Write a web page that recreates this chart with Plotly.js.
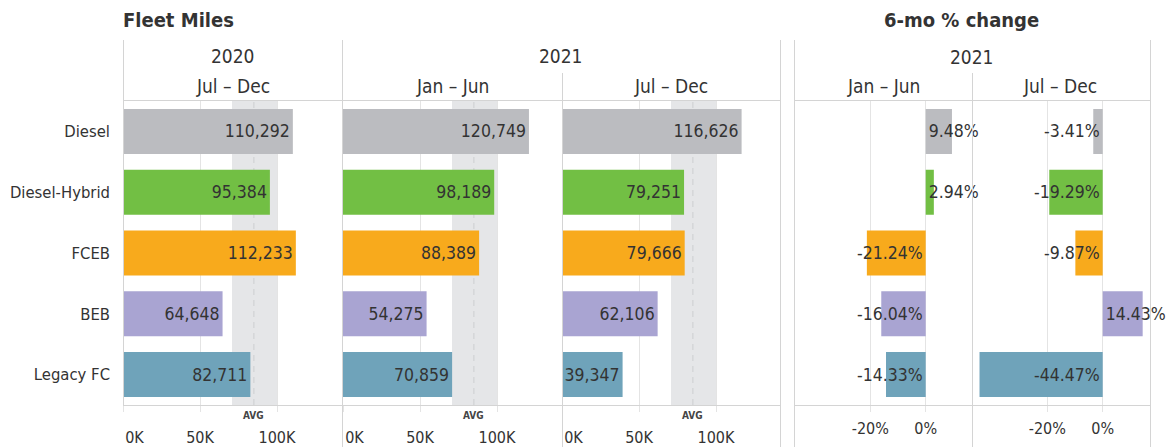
<!DOCTYPE html>
<html>
<head>
<meta charset="utf-8">
<script src="https://cdn.plot.ly/plotly-3.0.1.min.js"></script>
<style>
html,body{margin:0;padding:0;background:#fff;}
#chart{width:1175px;height:447px;}
</style>
</head>
<body>
<div id="chart"></div>
<script>
// ---- data ----
const categories = ['Diesel', 'Diesel-Hybrid', 'FCEB', 'BEB', 'Legacy FC'];
const barColors = ['#BBBCC0', '#72BF44', '#F8AA1C', '#A9A4D2', '#6FA3BA'];
const miles2020JulDec = [110292, 95384, 112233, 64648, 82711];
const miles2021JanJun = [120749, 98189, 88389, 54275, 70859];
const miles2021JulDec = [116626, 79251, 79666, 62106, 39347];
const pct2021JanJun = [9.48, 2.94, -21.24, -16.04, -14.33];
const pct2021JulDec = [-3.41, -19.29, -9.87, 14.43, -44.47];
const milesTickVals = [0, 50000, 100000];
const milesTickText = ['0K', '50K', '100K'];
const pctTickVals = [-20, 0];
const pctTickText = ['-20%', '0%'];
const avgMiles = 85000;
const avgBandLow = 70800;
const avgBandHigh = 100000;

// ---- layout helpers ----
const W = 1175, H = 447;
const FONT = '"Liberation Sans Narrow", "DejaVu Sans Condensed", "Arial Narrow", Roboto, sans-serif';
const TXT = '#333333';
const LINE = '#D4D4D4';
const GRID = '#E4E4E4';
const fx = p => p / W;
const fy = p => 1 - p / H;
const plotTop = 101, plotBot = 405;
const yDom = [fy(plotBot), fy(plotTop)];
const NB = '\u00a0';
// first tick label is pushed inward from the panel edge, as in the original
const milesTickLabels = milesTickText.map((t, i) => i === 0 ? NB.repeat(5) + t : t);

function milesTrace(vals, ax) {
  return {
    type: 'bar', orientation: 'h', y: categories, x: vals,
    xaxis: ax, yaxis: 'y',
    marker: {color: barColors, line: {width: 0}},
    text: vals.map(v => v.toLocaleString('en-US')),
    textposition: 'inside', insidetextanchor: 'end', textangle: 0,
    constraintext: 'none',
    insidetextfont: {family: FONT, size: 17.5, color: TXT},
    hoverinfo: 'none', cliponaxis: false, showlegend: false
  };
}
function pctTrace(vals, ax) {
  return {
    type: 'bar', orientation: 'h', y: categories, x: vals,
    xaxis: ax, yaxis: 'y',
    marker: {color: barColors, line: {width: 0}},
    text: vals.map(v => v.toFixed(2) + '%'),
    textposition: 'inside', insidetextanchor: 'start', textangle: 0,
    constraintext: 'none',
    insidetextfont: {family: FONT, size: 17.5, color: TXT},
    hoverinfo: 'none', cliponaxis: false, showlegend: false
  };
}

const data = [
  milesTrace(miles2020JulDec, 'x'),
  milesTrace(miles2021JanJun, 'x2'),
  milesTrace(miles2021JulDec, 'x3'),
  pctTrace(pct2021JanJun, 'x4'),
  pctTrace(pct2021JulDec, 'x5')
];

const kScale = 1.54 / 1000; // px per mile
const pScale = 2.77;        // px per percent
function milesAxis(x0px, x1px, standoff) {
  return {
    domain: [fx(x0px), fx(x1px)],
    range: [0, (x1px - x0px) / kScale],
    tickvals: milesTickVals, ticktext: milesTickLabels,
    showgrid: true, gridcolor: GRID, gridwidth: 1,
    zeroline: false, showline: true, linecolor: LINE, linewidth: 1,
    ticks: 'outside', ticklen: 6, tickcolor: GRID, tickwidth: 1,
    tickfont: {family: FONT, size: 16, color: TXT},
    ticklabelstandoff: standoff,
    anchor: 'y', fixedrange: true
  };
}
function pctAxis(x0px, x1px, zeroPx) {
  return {
    domain: [fx(x0px), fx(x1px)],
    range: [(x0px - zeroPx) / pScale, (x1px - zeroPx) / pScale],
    tickvals: pctTickVals, ticktext: pctTickText,
    showgrid: true, gridcolor: GRID, gridwidth: 1,
    zeroline: false, showline: true, linecolor: LINE, linewidth: 1,
    ticks: 'outside', ticklen: 6, tickcolor: GRID, tickwidth: 1,
    tickfont: {family: FONT, size: 16, color: TXT},
    ticklabelstandoff: 3,
    anchor: 'y', fixedrange: true
  };
}

const shapes = [];
// avg bands + dashed avg lines for the three miles panels
['x', 'x2', 'x3'].forEach(ax => {
  shapes.push({type: 'rect', xref: ax, yref: 'paper', x0: avgBandLow, x1: avgBandHigh,
    y0: yDom[0], y1: yDom[1], fillcolor: '#E5E6E8', line: {width: 0}, layer: 'below'});
  shapes.push({type: 'line', xref: ax, yref: 'paper', x0: avgMiles, x1: avgMiles,
    y0: yDom[0], y1: yDom[1], line: {color: '#CDCED0', width: 1, dash: '6px,5px'}, layer: 'below'});
});
function vline(xp, y0p, y1p) {
  shapes.push({type: 'line', xref: 'paper', yref: 'paper', x0: fx(xp), x1: fx(xp),
    y0: fy(y1p), y1: fy(y0p), line: {color: LINE, width: 1}});
}
function hline(x0p, x1p, yp) {
  shapes.push({type: 'line', xref: 'paper', yref: 'paper', x0: fx(x0p), x1: fx(x1p),
    y0: fy(yp), y1: fy(yp), line: {color: LINE, width: 1}});
}
vline(123.5, 40, plotBot);
vline(342.5, 40, H);
vline(562.5, 73, H);
vline(780.5, 40, H);
vline(794.5, 40, H);
vline(972.5, 73, H);
vline(1150.5, 40, H);
hline(123, 781, 100.5);
hline(794, 1151, 100.5);

function ann(text, xp, yp, size, bold, xanchor) {
  return {text: bold ? '<b>' + text + '</b>' : text, xref: 'paper', yref: 'paper',
    x: fx(xp), y: fy(yp), xanchor: xanchor || 'center', yanchor: 'middle',
    showarrow: false, font: {family: FONT, size: size, color: TXT}};
}
const annotations = [
  ann('Fleet Miles', 121, 20, 20, true, 'left'),
  ann('6-mo % change', 961, 20, 20, true),
  ann('2020', 232.5, 56, 19),
  ann('Jul – Dec', 232.5, 86, 19),
  ann('2021', 561, 56, 19),
  ann('Jan – Jun', 452, 86, 19),
  ann('Jul – Dec', 671, 86, 19),
  ann('2021', 972, 57, 19),
  ann('Jan – Jun', 883, 86, 19),
  ann('Jul – Dec', 1060, 86, 19)
];
['x', 'x2', 'x3'].forEach(ax => {
  annotations.push({text: '<b>AVG</b>', xref: ax, yref: 'paper', x: avgMiles, y: fy(415),
    xanchor: 'center', yanchor: 'middle', showarrow: false,
    font: {family: FONT, size: 10, color: '#444'}});
});

const layout = {
  width: W, height: H,
  margin: {l: 0, r: 0, t: 0, b: 0, pad: 0},
  paper_bgcolor: '#fff', plot_bgcolor: 'rgba(0,0,0,0)',
  bargap: 0.26,
  showlegend: false,
  font: {family: FONT, color: TXT},
  xaxis: milesAxis(123, 342, 12),
  xaxis2: milesAxis(343, 562, 12),
  xaxis3: milesAxis(562, 780, 12),
  xaxis4: pctAxis(794, 972.7, 925.7),
  xaxis5: pctAxis(972.7, 1150.7, 1102.7),
  yaxis: {
    domain: yDom, type: 'category', categoryorder: 'array', categoryarray: categories,
    autorange: 'reversed', anchor: 'x', showgrid: false, zeroline: false, showline: false,
    ticks: '', tickfont: {family: FONT, size: 16.5, color: TXT}, ticklabelstandoff: 12,
    fixedrange: true
  },
  shapes: shapes,
  annotations: annotations
};

Plotly.newPlot('chart', data, layout, {displayModeBar: false, staticPlot: true});
</script>
</body>
</html>
